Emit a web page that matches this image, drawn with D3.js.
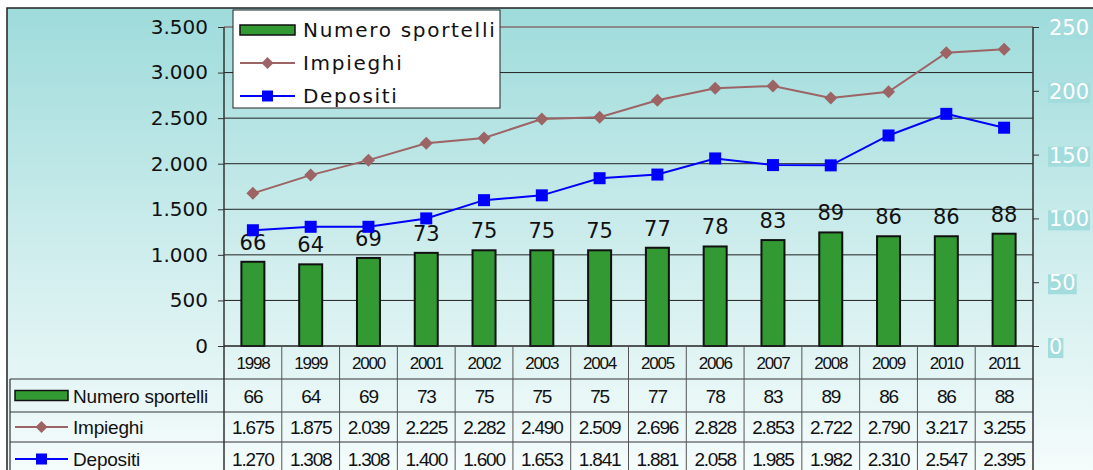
<!DOCTYPE html>
<html lang="it">
<head>
<title>Sportelli, impieghi e depositi</title>
<meta charset="utf-8">
<script src="https://d3js.org/d3.v7.min.js"></script>
<style type="text/css">
body { margin: 0; background: #fff; }
#vis svg { display: block; }
</style>
</head>
<body>
<div id="vis"></div>
<script>

/* Data */
/* ==== */

var years = ['1998','1999','2000','2001','2002','2003','2004','2005','2006','2007','2008','2009','2010','2011'];
var sportelli = [66, 64, 69, 73, 75, 75, 75, 77, 78, 83, 89, 86, 86, 88];
var impieghi = [1675, 1875, 2039, 2225, 2282, 2490, 2509, 2696, 2828, 2853, 2722, 2790, 3217, 3255];
var depositi = [1270, 1308, 1308, 1400, 1600, 1653, 1841, 1881, 2058, 1985, 1982, 2310, 2547, 2395];
var leftTicks = [0, 500, 1000, 1500, 2000, 2500, 3000, 3500];
var rightTicks = [0, 50, 100, 150, 200, 250];

/* Globals and SVG */
/* =============== */

var W = 1093, H = 470;
var plot = { left: 224, right: 1033, top: 27, bottom: 346 };
var rowY = [346, 379, 412, 442, 476];

var fmt = d3.formatLocale({ decimal: ',', thousands: '.', grouping: [3], currency: ['', ''] }).format(',');

var svg = d3.select('#vis').append('svg')
	.attr('width', W)
	.attr('height', H)
	.style('font-family', 'DejaVu Sans, Verdana, sans-serif');

var x = d3.scaleBand().domain(years).range([plot.left, plot.right]);
var yL = d3.scaleLinear().domain([0, 3500]).range([plot.bottom, plot.top]);
var yR = d3.scaleLinear().domain([0, 250]).range([plot.bottom, plot.top]);

/* Functions */
/* ========= */

function drawBackground() {
	var grad = svg.append('defs').append('linearGradient')
		.attr('id', 'bg').attr('x1', 0).attr('y1', 0).attr('x2', 0).attr('y2', 1);
	grad.append('stop').attr('offset', '0%').attr('stop-color', '#9edbdb');
	grad.append('stop').attr('offset', '55%').attr('stop-color', '#d2eeee');
	grad.append('stop').attr('offset', '100%').attr('stop-color', '#f6fcfc');

	svg.append('rect')
		.attr('x', 7).attr('y', 8).attr('width', W).attr('height', H)
		.attr('fill', 'url(#bg)').attr('stroke', '#222').attr('stroke-width', 1.5);
} // drawBackground()

function drawAxes() {
	// grid lines
	svg.append('g').selectAll('line')
		.data(leftTicks.slice(1))
		.join('line')
		.attr('x1', plot.left).attr('x2', plot.right)
		.attr('y1', d => yL(d)).attr('y2', d => yL(d))
		.attr('stroke', d => d === 3500 ? '#8a8a8a' : '#222')
		.attr('stroke-width', d => d === 3500 ? 2 : 1);

	var left = svg.append('g')
		.attr('transform', 'translate(' + plot.left + ',0)')
		.call(d3.axisLeft(yL).tickValues(leftTicks).tickFormat(fmt).tickSize(6).tickPadding(10));
	left.select('.domain').remove();
	left.selectAll('line').attr('stroke', '#333');
	left.selectAll('text').attr('font-size', 20).attr('font-family', 'DejaVu Sans, sans-serif').attr('fill', '#111');

	var right = svg.append('g')
		.attr('transform', 'translate(' + plot.right + ',0)')
		.call(d3.axisRight(yR).tickValues(rightTicks).tickSize(6).tickPadding(10));
	right.select('.domain').remove();
	right.selectAll('line').attr('stroke', '#333');
	right.selectAll('text')
		.attr('font-size', 21).attr('font-family', 'DejaVu Sans, sans-serif').attr('fill', '#fff')
		.attr('dy', '0.36em');
	right.selectAll('.tick').each(function() {
		var t = d3.select(this).select('text');
		var b = t.node().getBBox();
		d3.select(this).insert('rect', 'text')
			.attr('x', b.x - 1).attr('y', b.y + 3).attr('width', b.width + 2).attr('height', b.height - 4)
			.attr('fill', '#a3dcdc');
	});

	// vertical axis lines
	svg.append('line').attr('x1', plot.left).attr('x2', plot.left)
		.attr('y1', plot.top).attr('y2', H).attr('stroke', '#333').attr('stroke-width', 1.5);
	svg.append('line').attr('x1', plot.right).attr('x2', plot.right)
		.attr('y1', plot.top).attr('y2', H).attr('stroke', '#333').attr('stroke-width', 1.5);
} // drawAxes()

function drawBars() {
	var bw = 23;
	svg.append('g').selectAll('rect')
		.data(sportelli)
		.join('rect')
		.attr('x', (d, i) => x(years[i]) + x.bandwidth() / 2 - bw / 2)
		.attr('y', d => yR(d))
		.attr('width', bw)
		.attr('height', d => yR(0) - yR(d))
		.attr('fill', '#339933')
		.attr('stroke', '#111')
		.attr('stroke-width', 2);

	svg.append('g').selectAll('text')
		.data(sportelli)
		.join('text')
		.attr('x', (d, i) => x(years[i]) + x.bandwidth() / 2)
		.attr('y', d => yR(d) - 12)
		.attr('text-anchor', 'middle')
		.attr('font-size', 21)
		.attr('fill', '#111')
		.text(d => d);
} // drawBars()

function diamond(sel, s) {
	sel.attr('d', 'M0,' + (-s) + 'L' + s + ',0L0,' + s + 'L' + (-s) + ',0Z');
}

function drawLines() {
	var cx = (d, i) => x(years[i]) + x.bandwidth() / 2;
	var line = d3.line().x(cx).y(d => yL(d));

	svg.append('path').datum(impieghi)
		.attr('d', line).attr('fill', 'none').attr('stroke', '#9c6464').attr('stroke-width', 2);
	svg.append('g').selectAll('path')
		.data(impieghi)
		.join('path')
		.attr('transform', (d, i) => 'translate(' + cx(d, i) + ',' + yL(d) + ')')
		.call(diamond, 6.5)
		.attr('fill', '#9c6464');

	svg.append('path').datum(depositi)
		.attr('d', line).attr('fill', 'none').attr('stroke', '#0000ff').attr('stroke-width', 2);
	svg.append('g').selectAll('rect')
		.data(depositi)
		.join('rect')
		.attr('x', (d, i) => cx(d, i) - 6)
		.attr('y', d => yL(d) - 6)
		.attr('width', 12).attr('height', 12)
		.attr('fill', '#0000ff');
} // drawLines()

function legendKey(g, kind, x0, y0, w) {
	if (kind === 0) {
		g.append('rect').attr('x', x0).attr('y', y0 - 5).attr('width', w).attr('height', 10)
			.attr('fill', '#339933').attr('stroke', '#111').attr('stroke-width', 1.5);
	} else if (kind === 1) {
		g.append('line').attr('x1', x0).attr('x2', x0 + w).attr('y1', y0).attr('y2', y0)
			.attr('stroke', '#9c6464').attr('stroke-width', 2);
		g.append('path').attr('transform', 'translate(' + (x0 + w / 2) + ',' + y0 + ')')
			.call(diamond, 6).attr('fill', '#9c6464');
	} else {
		g.append('line').attr('x1', x0).attr('x2', x0 + w).attr('y1', y0).attr('y2', y0)
			.attr('stroke', '#0000ff').attr('stroke-width', 2);
		g.append('rect').attr('x', x0 + w / 2 - 5.5).attr('y', y0 - 5.5).attr('width', 11).attr('height', 11)
			.attr('fill', '#0000ff');
	}
}

function drawLegend() {
	var names = ['Numero sportelli', 'Impieghi', 'Depositi'];
	var g = svg.append('g');
	g.append('rect').attr('x', 233).attr('y', 10).attr('width', 267).attr('height', 98)
		.attr('fill', '#fff').attr('stroke', '#222').attr('stroke-width', 1);
	names.forEach(function(n, i) {
		var yy = 30 + i * 33;
		legendKey(g, i, 240, yy, 55);
		g.append('text').attr('x', 303).attr('y', yy + 7)
			.attr('font-size', 20).attr('fill', '#111').attr('letter-spacing', 1.7).text(n);
	});
} // drawLegend()

function drawTable() {
	var g = svg.append('g')
		.style('font-family', 'Liberation Sans, Arial, sans-serif')
		.attr('font-size', 19).attr('letter-spacing', -1.2).attr('fill', '#111');
	var rows = [sportelli, impieghi, depositi];
	var names = ['Numero sportelli', 'Impieghi', 'Depositi'];

	// horizontal rules
	g.append('line').attr('x1', plot.left).attr('x2', plot.right)
		.attr('y1', rowY[0]).attr('y2', rowY[0]).attr('stroke', '#222').attr('stroke-width', 1.5);
	[rowY[1], rowY[2], rowY[3]].forEach(function(yy) {
		g.append('line').attr('x1', 10).attr('x2', plot.right)
			.attr('y1', yy).attr('y2', yy).attr('stroke', '#333').attr('stroke-width', 1.2);
	});
	g.append('line').attr('x1', 10).attr('x2', 10)
		.attr('y1', rowY[1]).attr('y2', H).attr('stroke', '#333').attr('stroke-width', 1.2);

	// column rules
	g.selectAll('line.col')
		.data(years.slice(1))
		.join('line')
		.attr('class', 'col')
		.attr('x1', d => x(d)).attr('x2', d => x(d))
		.attr('y1', rowY[0]).attr('y2', H)
		.attr('stroke', '#555').attr('stroke-width', 1);

	// year row
	g.selectAll('text.yr')
		.data(years)
		.join('text')
		.attr('class', 'yr')
		.attr('x', d => x(d) + x.bandwidth() / 2)
		.attr('y', (rowY[0] + rowY[1]) / 2 + 6)
		.attr('text-anchor', 'middle')
		.attr('font-size', 17)
		.text(d => d);

	rows.forEach(function(vals, r) {
		var yy = (rowY[r + 1] + rowY[r + 2]) / 2;
		if (r === 2) yy = rowY[3] + 17;
		legendKey(g, r, 15, yy, 53);
		g.append('text').attr('x', 73).attr('y', yy + 7).attr('letter-spacing', -0.2).text(names[r]);
		g.selectAll('text.v' + r)
			.data(vals)
			.join('text')
			.attr('class', 'v' + r)
			.attr('x', (d, i) => x(years[i]) + x.bandwidth() / 2)
			.attr('y', yy + 7)
			.attr('text-anchor', 'middle')
			.text(d => fmt(d));
	});
} // drawTable()

/* Build */
/* ===== */

drawBackground();
drawAxes();
drawBars();
drawLines();
drawLegend();
drawTable();

</script>
</body>
</html>
